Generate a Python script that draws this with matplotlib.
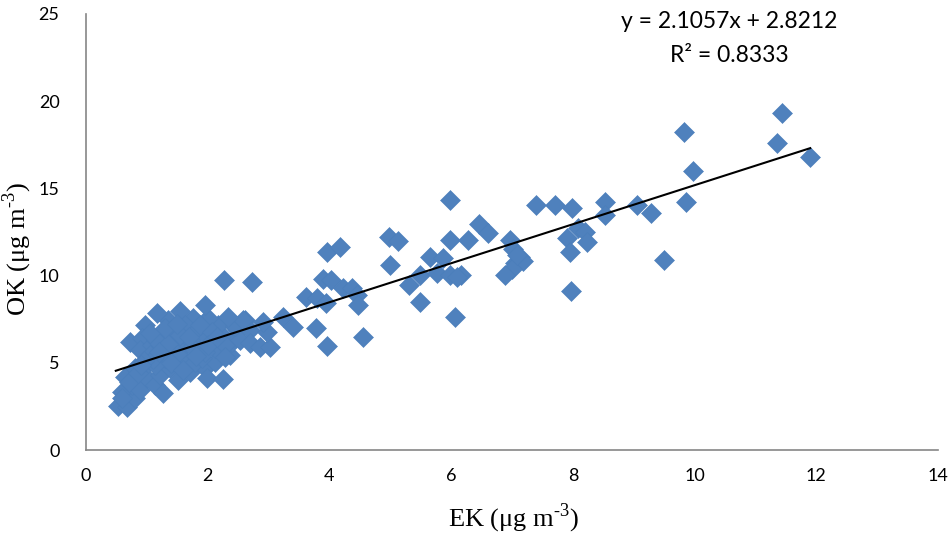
import numpy as np
import matplotlib.pyplot as plt

plt.rcParams['mathtext.fontset'] = 'custom'
plt.rcParams['mathtext.rm'] = 'Liberation Serif'

# EK / OK pairs (ug m-3)
ek = [0.53, 0.67, 0.59, 0.80, 0.76, 0.89, 0.64, 1.00, 1.13, 1.27, 1.22, 1.02, 0.80, 1.38,
      1.51, 1.71, 1.96, 1.99, 2.25, 2.12, 2.37, 2.40, 2.23, 2.50, 2.61, 2.37, 2.17, 2.00,
      1.96, 1.76, 1.54, 1.35, 1.17, 0.97, 0.72, 0.92, 0.89, 1.08, 1.22, 1.41, 1.63, 1.79,
      1.96, 2.12, 1.84, 1.63, 1.45, 1.30, 1.13, 1.63, 1.79, 1.46, 1.25, 1.05, 1.71, 1.87,
      2.07, 2.28, 2.53, 2.70, 0.70, 0.85, 0.60, 1.10, 1.50, 1.90, 2.28,
      0.95, 1.15, 1.35, 1.55, 1.75, 1.95, 1.20, 1.40, 1.60, 1.80, 2.00, 0.90, 1.05, 1.30,
      1.50, 1.70, 2.15, 2.45,
      2.69, 2.86, 3.02, 2.97, 2.91, 3.24, 3.41, 2.58, 2.34, 2.26, 2.72,
      3.62, 3.80, 3.94, 3.78, 3.96, 3.96, 4.17, 3.89, 4.03, 4.22, 4.37, 4.45, 4.47, 4.55,
      4.98, 5.13, 5.00, 5.30, 5.49, 5.66, 5.87, 5.76, 5.98, 6.17, 6.09, 5.49, 6.06,
      5.98, 5.98, 6.27, 6.45, 6.61,
      6.97, 7.02, 7.13, 7.05, 7.18, 7.00, 6.88, 7.08,
      7.39, 7.70, 7.99, 8.53, 8.53, 9.05, 9.29, 8.09, 8.20, 7.90, 8.23, 7.95, 7.97,
      9.49, 9.82, 9.98, 9.86, 11.43, 11.35, 11.90]
ok = [2.52, 2.45, 3.33, 2.98, 3.73, 3.44, 4.19, 4.13, 3.73, 3.27, 4.30, 4.99, 4.70, 4.70,
      4.01, 4.47, 4.70, 4.13, 4.07, 5.05, 5.45, 6.19, 6.59, 6.88, 7.45, 7.34, 7.17, 7.57,
      8.31, 7.57, 7.97, 7.45, 7.86, 7.17, 6.19, 6.42, 5.73, 6.02, 6.59, 6.88, 7.17, 6.77,
      6.31, 5.85, 5.73, 6.02, 5.62, 5.28, 4.87, 5.16, 5.05, 6.31, 5.85, 5.45, 6.31, 7.17,
      6.77, 6.02, 6.31, 6.88, 3.90, 4.40, 3.00, 5.20, 5.50, 5.30, 5.35,
      5.10, 6.30, 6.10, 6.60, 5.90, 5.60, 5.60, 5.00, 4.60, 5.40, 6.00, 4.90, 6.70, 7.00,
      7.20, 6.50, 6.50, 7.10,
      6.12, 5.92, 5.92, 6.78, 7.36, 7.64, 7.07, 7.45, 7.64, 9.75, 9.65,
      8.80, 8.70, 8.40, 7.00, 5.96, 11.35, 11.64, 9.80, 9.75, 9.30, 9.30, 8.90, 8.30, 6.48,
      12.20, 12.00, 10.61, 9.46, 10.03, 11.08, 10.99, 10.13, 10.03, 10.03, 9.94, 8.50, 7.64,
      14.33, 12.04, 12.04, 12.94, 12.46,
      12.04, 11.55, 11.08, 10.70, 10.85, 10.40, 10.03, 11.20,
      14.03, 14.03, 13.86, 14.24, 13.47, 14.05, 13.61, 12.71, 12.52, 12.14, 11.94, 11.33, 9.14,
      10.89, 18.23, 16.02, 14.24, 19.34, 17.62, 16.82]
ek = np.array(ek)
ok = np.array(ok)

fig = plt.figure(figsize=(9.52, 5.39), dpi=100)
ax = fig.add_axes([0.0903, 0.1651, 0.895, 0.809])

ax.plot(ek, ok, 'D', color='#4F81BD', markersize=10, markeredgewidth=0.4,
        markeredgecolor='#4A7EBB', zorder=2)

# linear trend over the data range
coef = np.polyfit(ek, ok, 1)
xs = np.array([ek.min() - 0.04, ek.max()])
ax.plot(xs, np.polyval(coef, xs), color='black', linewidth=1.5, zorder=3)

ax.set_xlim(0, 14)
ax.set_ylim(0, 25)
ax.set_xticks(range(0, 15, 2))
ax.set_yticks(range(0, 26, 5))
for s in ['top', 'right']:
    ax.spines[s].set_visible(False)
for s in ['left', 'bottom']:
    ax.spines[s].set_color('#868686')
    ax.spines[s].set_linewidth(1.2)
ax.tick_params(length=0, labelsize=13, colors='black')
ax.tick_params(axis='y', pad=19)
ax.tick_params(axis='x', pad=13)
for lab in ax.get_xticklabels() + ax.get_yticklabels():
    lab.set_family('Lato')

unit = r'(μg m$^{\text{-3}}$)'
fig.text(513 / 952, 1 - 518 / 539, 'EK ' + unit, family='Liberation Serif',
         fontsize=19, ha='center', va='center')
fig.text(17 / 952, 1 - 249 / 539, 'OK ' + unit, family='Liberation Serif',
         fontsize=19, ha='center', va='center', rotation=90)

fig.text(729 / 952, 1 - 22 / 539, 'y = 2.1057x + 2.8212', family='Lato', fontsize=16.5,
         ha='center', va='center')
fig.text(729 / 952, 1 - 55 / 539, 'R² = 0.8333', family='Lato', fontsize=16.5,
         ha='center', va='center')

fig.savefig('out.png', dpi=100)
